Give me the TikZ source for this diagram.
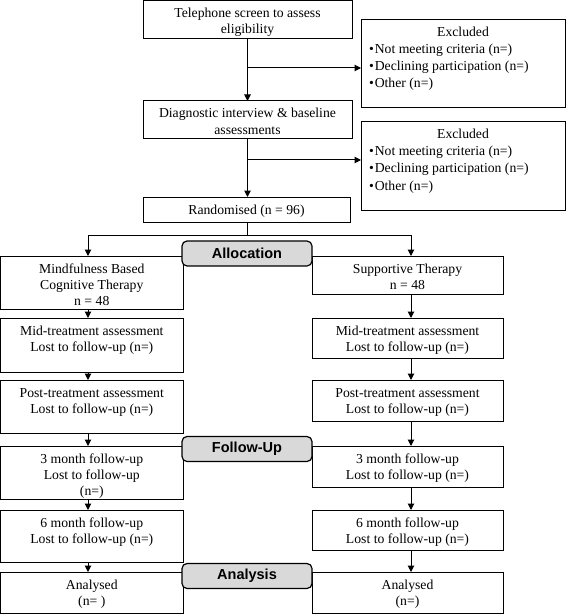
\documentclass[tikz,border=0pt]{standalone}
\usepackage{fontspec}
\setmainfont{Liberation Serif}
\newfontfamily\hv{Liberation Sans}
\usetikzlibrary{arrows.meta}
\definecolor{phasegray}{RGB}{217,217,217}
\newcommand\bxt[3]{\parbox[t][#2bp][t]{#1bp}{\centering\rule{0pt}{17bp}#3}}
\newcommand\excltext{\parbox[t][88bp][t]{204bp}{\fontsize{13.7bp}{17bp}\selectfont\centering\rule{0pt}{17bp}Excluded\par\raggedright\leftskip=8bp
\textbullet\kern1bp Not meeting criteria (n=)\par
\textbullet\kern1bp Declining participation (n=)\par
\textbullet\kern1bp Other (n=)}}
\tikzset{
  x=1bp, y=-1bp,
  box/.style={draw, line width=1bp, inner sep=0pt, outer sep=0pt, anchor=north west,
    font=\fontsize{13.7bp}{16.3bp}\selectfont},
  phase/.style={draw, line width=1.2bp, fill=phasegray, rounded corners=5bp,
    minimum width=130bp, minimum height=25bp, inner sep=0pt,
    font=\hv\bfseries\fontsize{14.5bp}{17bp}\selectfont},
  arr/.style={line width=1bp, -{Triangle[length=6.5bp,width=6.5bp]}},
  conn/.style={line width=1bp},
}
\begin{document}
\begin{tikzpicture}
\useasboundingbox (0,0) rectangle (567,614);
% top part
\node[box] (tel) at (143,0.5) {\bxt{209}{38}{Telephone screen to assess\\eligibility}};
\node[box] (exc1) at (361,20) {\excltext};
\node[box] (diag) at (143,101) {\bxt{209}{38}{Diagnostic interview \& baseline\\assessments}};
\node[box] (exc2) at (361,122) {\excltext};
\node[box] (rand) at (143,197) {\bxt{207}{25}{Randomised (n = 96)}};
% left column
\node[box] (mbct) at (0.6,256) {\bxt{182.4}{53}{Mindfulness Based\\Cognitive Therapy\\n = 48}};
\node[box] (midL) at (0.6,318) {\bxt{182.4}{54}{Mid-treatment assessment\\Lost to follow-up (n=)}};
\node[box] (postL) at (0.6,380) {\bxt{182.4}{53}{Post-treatment assessment\\Lost to follow-up (n=)}};
\node[box] (fu3L) at (0.6,446) {\bxt{182.4}{53}{3 month follow-up\\Lost to follow-up\\(n=)}};
\node[box] (fu6L) at (0.6,510) {\bxt{182.4}{52}{6 month follow-up\\Lost to follow-up (n=)}};
\node[box] (anL) at (0.6,572) {\bxt{182.4}{41.3}{Analysed\\(n= )}};
% right column
\node[box] (supp) at (312,256) {\bxt{191}{38}{Supportive Therapy\\n = 48}};
\node[box] (midR) at (312,318) {\bxt{191}{40}{Mid-treatment assessment\\Lost to follow-up (n=)}};
\node[box] (postR) at (312,380) {\bxt{191}{41}{Post-treatment assessment\\Lost to follow-up (n=)}};
\node[box] (fu3R) at (312,446) {\bxt{191}{41}{3 month follow-up\\Lost to follow-up (n=)}};
\node[box] (fu6R) at (312,510) {\bxt{191}{40}{6 month follow-up\\Lost to follow-up (n=)}};
\node[box] (anR) at (312,572) {\bxt{191}{41.3}{Analysed\\(n=)}};
% phase labels
\node[phase] (alloc) at (247,253.5) {Allocation};
\node[phase] (follow) at (247,449) {Follow-Up};
\node[phase] (analysis) at (247,576) {Analysis};
% helper coordinates
\coordinate (colL) at (88,0);
\coordinate (colR) at (411,0);
\coordinate (j1) at (247.5,68);
\coordinate (j2) at (247.5,160);
\coordinate (split) at (247,235);
% top connectors
\draw[arr] (tel.south) -- (diag.north);
\draw[arr] (j1) -- (j1 -| exc1.west);
\draw[arr] (diag.south) -- (diag.south |- rand.north);
\draw[arr] (j2) -- (j2 -| exc2.west);
\draw[conn] (rand.south -| split) -- (split);
\draw[arr] (split) -| (mbct.north -| colL);
\draw[arr] (split) -| (supp.north -| colR);
% left column connectors
\draw[arr] (mbct.south -| colL) -- (midL.north -| colL);
\draw[arr] (midL.south -| colL) -- (postL.north -| colL);
\draw[arr] (postL.south -| colL) -- (fu3L.north -| colL);
\draw[arr] (fu3L.south -| colL) -- (fu6L.north -| colL);
\draw[arr] (fu6L.south -| colL) -- (anL.north -| colL);
% right column connectors
\draw[arr] (supp.south -| colR) -- (midR.north -| colR);
\draw[arr] (midR.south -| colR) -- (postR.north -| colR);
\draw[arr] (postR.south -| colR) -- (fu3R.north -| colR);
\draw[arr] (fu3R.south -| colR) -- (fu6R.north -| colR);
\draw[arr] (fu6R.south -| colR) -- (anR.north -| colR);
\end{tikzpicture}
\end{document}
